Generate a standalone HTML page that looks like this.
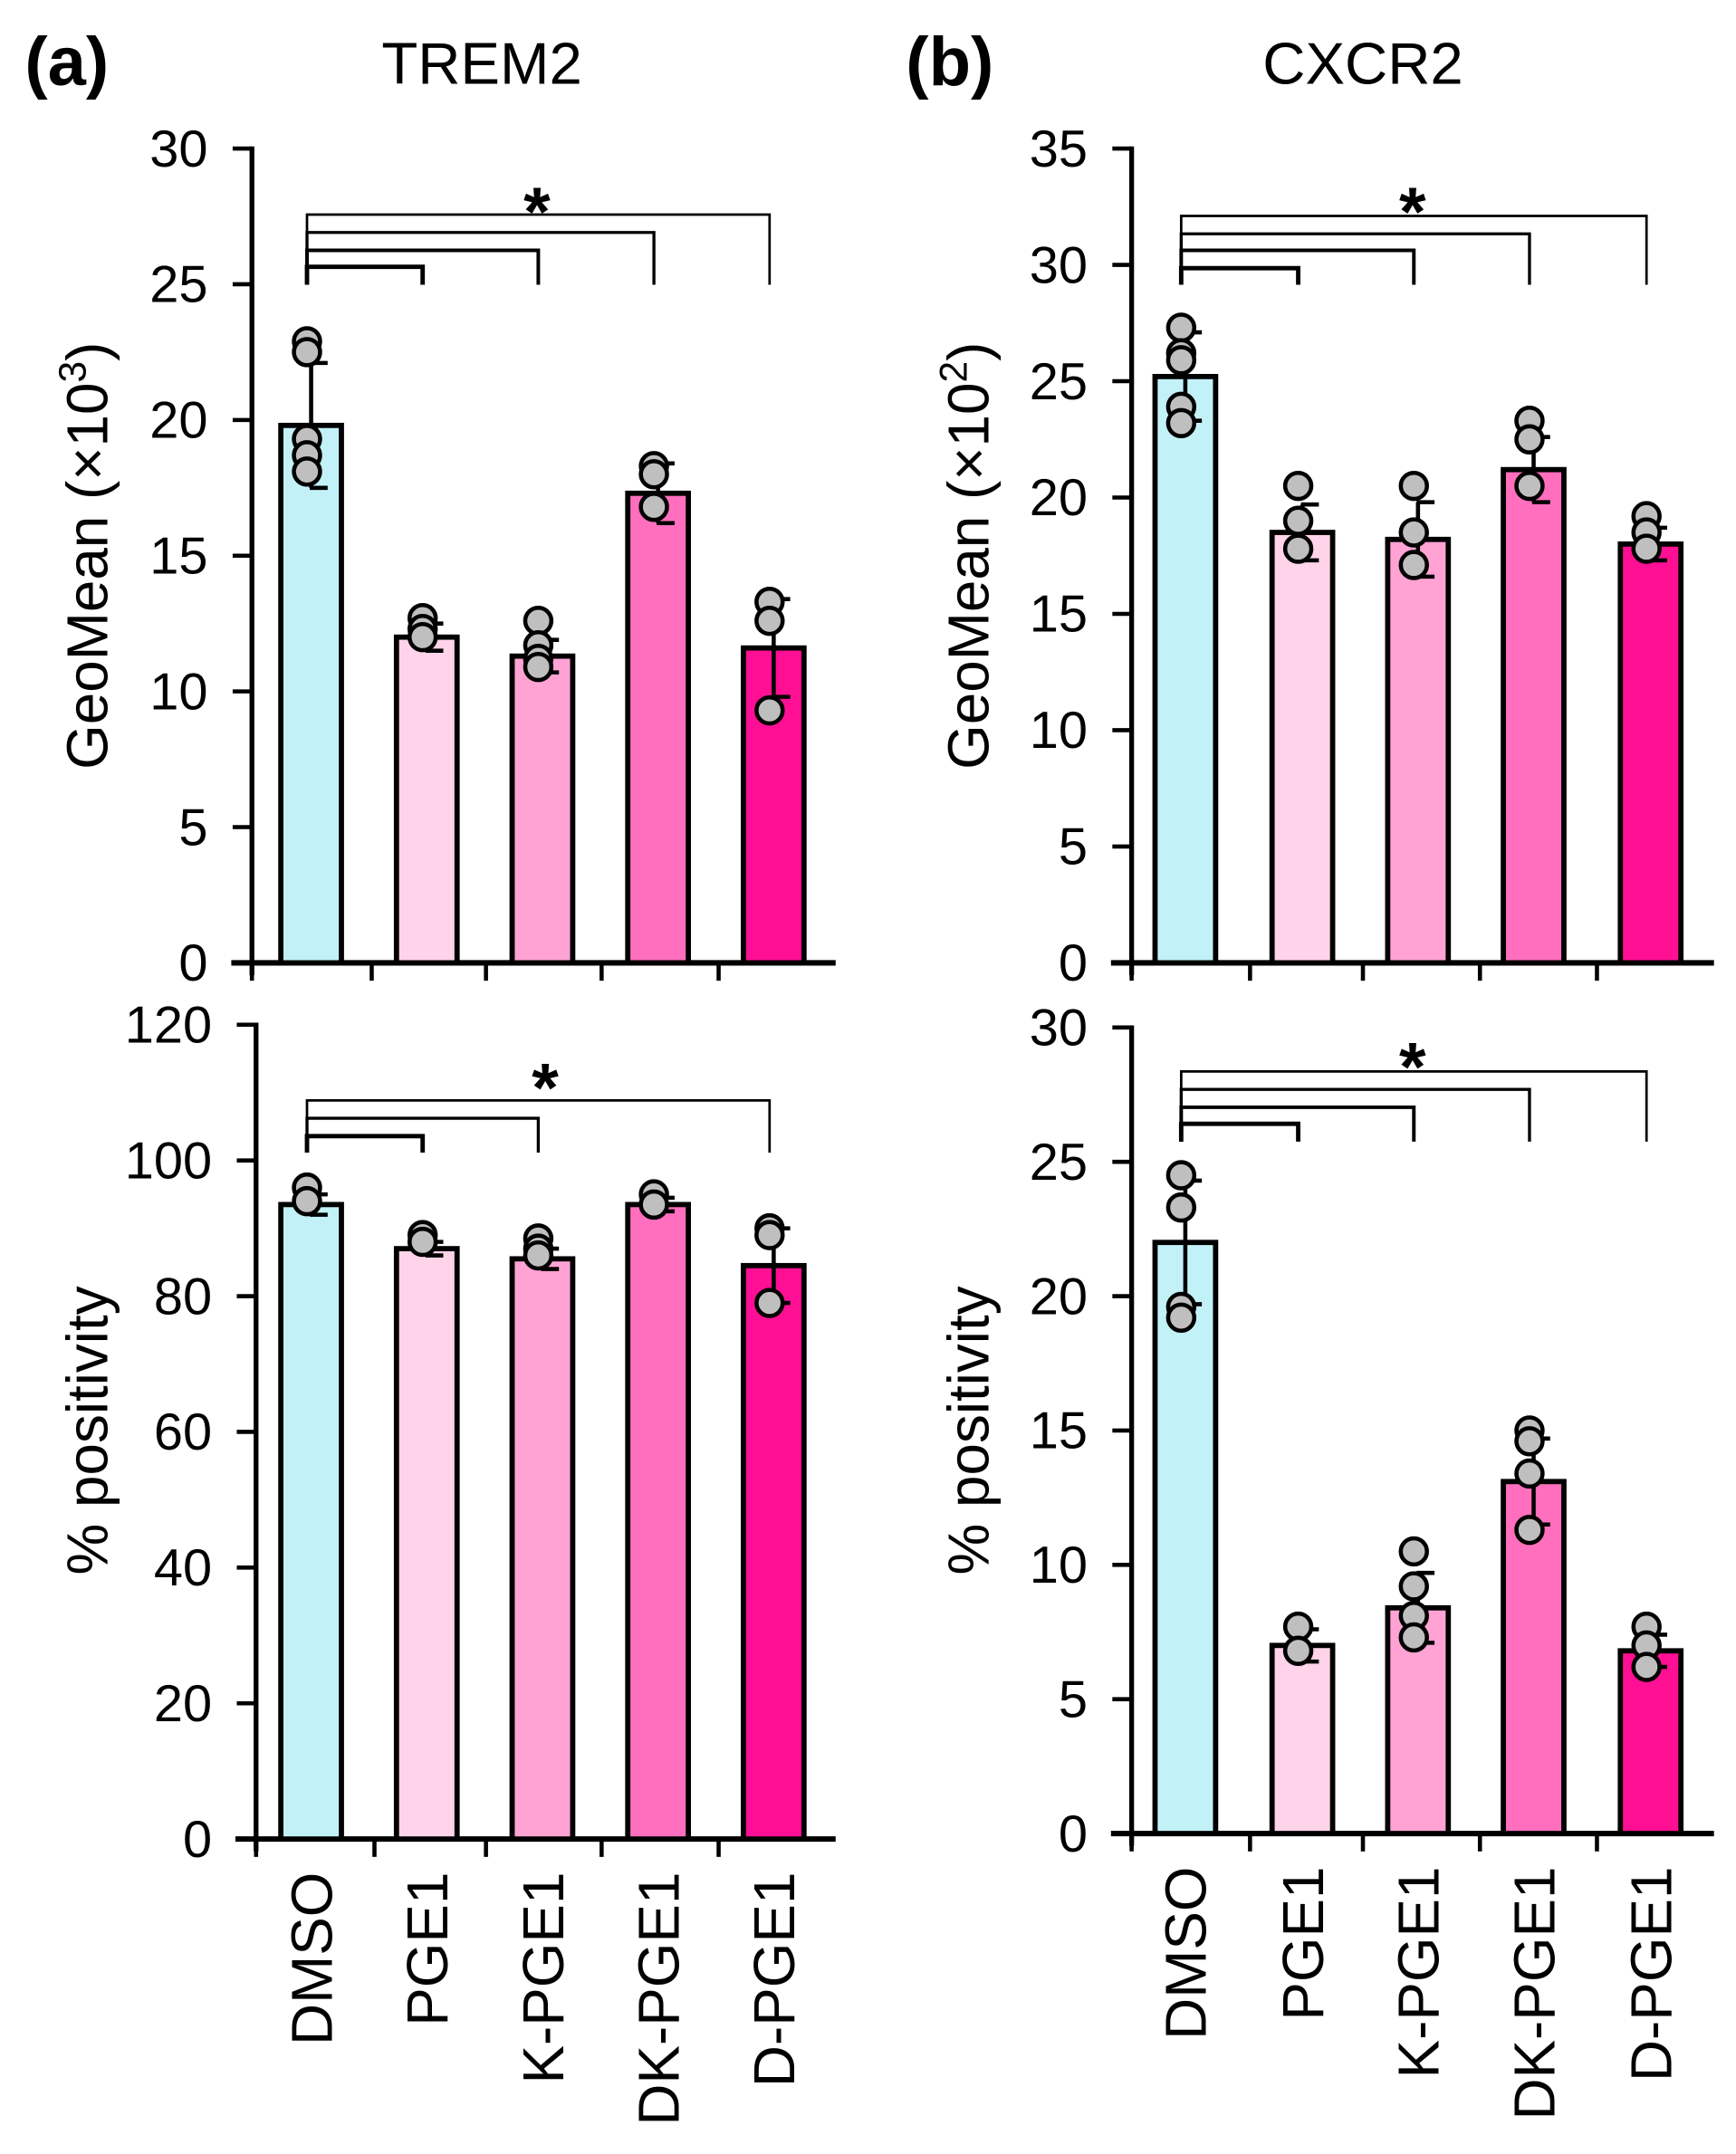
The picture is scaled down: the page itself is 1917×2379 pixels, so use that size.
<!DOCTYPE html>
<html><head><meta charset="utf-8">
<style>
html,body{margin:0;padding:0;background:#fff;}
svg{display:block;}
text{font-family:"Liberation Sans",Arial,sans-serif;fill:#000;}
</style></head>
<body>
<svg id="fig" width="1917" height="2379" viewBox="0 0 1261 1566" preserveAspectRatio="none" xmlns="http://www.w3.org/2000/svg">
  <text x="18" y="62" font-size="50" font-weight="bold">(a)</text>
  <text x="350" y="61" font-size="43" text-anchor="middle">TREM2</text>
  <text x="658" y="62" font-size="50" font-weight="bold">(b)</text>
  <text x="990" y="61" font-size="43" text-anchor="middle">CXCR2</text>
</svg>
<script>
const categories = ["DMSO","PGE1","K-PGE1","DK-PGE1","D-PGE1"];
const colors = ["#c3f1f8","#ffd3ea","#ffa3d4","#ff6fbd","#ff0f93"];

const trem2GeoMeans = [19.8, 12.0, 11.3, 17.3, 11.6];
const trem2GeoErr = [2.3, 0.5, 0.6, 1.1, 1.8];
const trem2GeoPoints = [[22.9,22.5,19.3,18.7,18.1],[12.7,12.3,12.0],[12.6,11.7,11.2,10.9],[18.3,18.0,16.8],[13.3,12.6,9.3]];
const trem2GeoTicks = [0,5,10,15,20,25,30];

const trem2PosMeans = [93.5, 87.0, 85.5, 93.5, 84.5];
const trem2PosErr = [1.5, 1.0, 1.5, 1.0, 5.5];
const trem2PosPoints = [[96,94],[89,88],[88.5,87,86],[95,93.5],[90,89,79]];
const trem2PosTicks = [0,20,40,60,80,100,120];

const cxcr2GeoMeans = [25.2, 18.5, 18.2, 21.2, 18.0];
const cxcr2GeoErr = [1.9, 1.2, 1.6, 1.4, 0.7];
const cxcr2GeoPoints = [[27.3,26.2,25.9,23.9,23.2],[20.5,19.0,17.8],[20.5,18.5,17.1],[23.3,22.5,20.5],[19.2,18.5,17.8]];
const cxcr2GeoTicks = [0,5,10,15,20,25,30,35];

const cxcr2PosMeans = [22.0, 7.0, 8.4, 13.1, 6.8];
const cxcr2PosErr = [2.3, 0.6, 1.3, 1.6, 0.6];
const cxcr2PosPoints = [[24.5,23.3,19.6,19.2],[7.7,6.8],[10.5,9.2,8.1,7.3],[15.0,14.6,13.4,11.3],[7.7,7.0,6.2]];
const cxcr2PosTicks = [0,5,10,15,20,25,30];

const NS = "http://www.w3.org/2000/svg";
const svg = document.getElementById("fig");
function mk(tag, attrs, parent){
  const e = document.createElementNS(NS, tag);
  for (const k in attrs) e.setAttribute(k, attrs[k]);
  (parent||svg).appendChild(e);
  return e;
}

function panel(cfg){
  const g = mk("g", {});
  
  
  const yScale = v => cfg.y0 + (cfg.yTop - cfg.y0) * (v / cfg.max);
  const ax = mk("line", {x1:cfg.ax, y1:cfg.yTop-1.5, x2:cfg.ax, y2:cfg.y0+9, stroke:"#000","stroke-width":3.5}, g);
  
  
  cfg.ticks.forEach(t => {
    const y = yScale(t);
    const tl = mk("line", {x1:cfg.ax-14, y1:y, x2:cfg.ax, y2:y, stroke:"#000","stroke-width":3}, g);
    
    
    const tx = mk("text", {x:cfg.ax-32, y:y+13, "font-size":38, "text-anchor":"end"}, g);
    tx.textContent = t;
    
    
  });
  const xa = mk("line", {x1:cfg.ax-15, y1:cfg.y0, x2:cfg.xEnd, y2:cfg.y0, stroke:"#000","stroke-width":4}, g);
  
  
  cfg.xTicks.forEach(x => {
    const xt = mk("line", {x1:x, y1:cfg.y0, x2:x, y2:cfg.y0+13, stroke:"#000","stroke-width":3}, g);
    
    
  });
  const yt = mk("text", {x:0, y:0, "font-size":42, "text-anchor":"middle", transform:`translate(${cfg.titleX},${cfg.titleY}) rotate(-90)`}, g);
  yt.innerHTML = cfg.yTitle;
  
  
  cfg.means.forEach((m, i) => {
    const cx = cfg.centers[i], w = 44;
    const top = yScale(m);
    const b = mk("rect", {x:cx-w/2, y:top, width:w, height:cfg.y0-top, fill:colors[i], stroke:"#000","stroke-width":3.8}, g);
    
    
    const eTop = yScale(m + cfg.err[i]), eBot = yScale(m - cfg.err[i]);
    const el = mk("line", {x1:cx, y1:eTop, x2:cx, y2:eBot, stroke:"#000","stroke-width":3}, g);
    
    
    [eTop, eBot].forEach(y => {
      const c = mk("line", {x1:cx-1, y1:y, x2:cx+12, y2:y, stroke:"#000","stroke-width":3}, g);
      
      
    });
    cfg.points[i].forEach(p => {
      const d = mk("circle", {cx:cx-3, cy:yScale(p), r:9.5, fill:"#bfbfbf", stroke:"#000","stroke-width":3}, g);
      
      
    });
  });
  const sx = cfg.centers[0] - 3;
  cfg.brackets.forEach(br => {
    const ex = cfg.centers[br.to] - 3;
    const p = mk("path", {d:`M${sx},${cfg.drop} V${br.y} H${ex} V${cfg.drop}`, fill:"none", stroke:"#000","stroke-width":br.w}, g);
    
    
  });
  const st = mk("text", {x:cfg.starX, y:cfg.starY+28, "font-size":50, "font-weight":"bold", "text-anchor":"middle"}, g);
  st.textContent = "*";
  
  
  if (cfg.xLabels) {
    categories.forEach((c, i) => {
      const t = mk("text", {x:0, y:0, "font-size":42, "text-anchor":"end", transform:`translate(${cfg.centers[i]+15},${cfg.y0+24}) rotate(-90)`}, g);
      t.textContent = c;
      
      
    });
  }
}

const aCenters = [226, 310, 394, 478, 562];
const bCenters = [861, 946, 1030, 1114, 1199];

panel({name:"trem2-geomean-chart", ax:183, y0:700, yTop:108, max:30, ticks:trem2GeoTicks,
  xEnd:607, xTicks:[183,270,353,437,522], centers:aCenters, means:trem2GeoMeans, err:trem2GeoErr, points:trem2GeoPoints,
  yTitle:'GeoMean (×10<tspan baseline-shift="super" font-size="28">3</tspan>)', titleX:78, titleY:404,
  brackets:[{to:4,y:156,w:1.8},{to:3,y:169,w:2.2},{to:2,y:182,w:2.6},{to:1,y:194,w:3.2}], drop:207, starX:390, starY:143});

panel({name:"trem2-positivity-chart", ax:186, y0:1337, yTop:745, max:120, ticks:trem2PosTicks,
  xEnd:607, xTicks:[186,272,353,437,522], centers:aCenters, means:trem2PosMeans, err:trem2PosErr, points:trem2PosPoints,
  yTitle:'% positivity', titleX:78, titleY:1040, xLabels:true,
  brackets:[{to:4,y:800,w:1.8},{to:2,y:813,w:2.2},{to:1,y:826,w:3.2}], drop:838, starX:396, starY:780});

panel({name:"cxcr2-geomean-chart", ax:822, y0:700, yTop:108, max:35, ticks:cxcr2GeoTicks,
  xEnd:1245, xTicks:[822,908,990,1075,1160], centers:bCenters, means:cxcr2GeoMeans, err:cxcr2GeoErr, points:cxcr2GeoPoints,
  yTitle:'GeoMean (×10<tspan baseline-shift="super" font-size="28">2</tspan>)', titleX:718, titleY:404,
  brackets:[{to:4,y:157,w:1.8},{to:3,y:170,w:2.2},{to:2,y:182,w:2.6},{to:1,y:195,w:3.2}], drop:207, starX:1026, starY:143});

panel({name:"cxcr2-positivity-chart", ax:822, y0:1333, yTop:747, max:30, ticks:cxcr2PosTicks,
  xEnd:1245, xTicks:[822,908,990,1075,1160], centers:bCenters, means:cxcr2PosMeans, err:cxcr2PosErr, points:cxcr2PosPoints,
  yTitle:'% positivity', titleX:718, titleY:1040, xLabels:true,
  brackets:[{to:4,y:779,w:1.8},{to:3,y:792,w:2.2},{to:2,y:805,w:2.6},{to:1,y:817,w:3.2}], drop:830, starX:1026, starY:765});
</script>
</body></html>
